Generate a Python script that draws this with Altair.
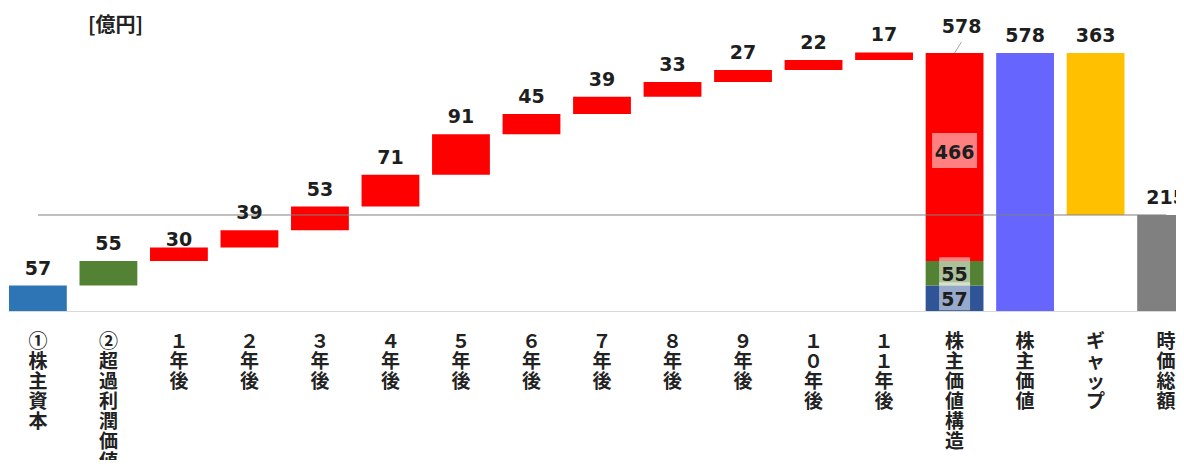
import altair as alt
import pandas as pd

categories = ["①株主資本", "②超過利潤価値", "１年後", "２年後", "３年後", "４年後", "５年後",
              "６年後", "７年後", "８年後", "９年後", "１０年後", "１１年後",
              "株主価値構造", "株主価値", "ギャップ", "時価総額"]
step_values = [57, 55, 30, 39, 53, 71, 91, 45, 39, 33, 27, 22, 17]
step_colors = ["#2E75B6", "#548235"] + ["#FF0000"] * 11
structure_parts = [57, 55, 466]
structure_colors = ["#2F5597", "#548235", "#FF0000"]
shareholder_value = 578
gap_value = 363
market_cap = 215
unit_label = "[億円]"

# ---- build tables ----
bars = []
labels = []
cum = 0
for c, v, col in zip(categories[:13], step_values, step_colors):
    bars.append(dict(cat=c, start=cum, end=cum + v, color=col))
    labels.append(dict(cat=c, top=cum + v, text=str(v)))
    cum += v

inner = []
cum2 = 0
for v, col in zip(structure_parts, structure_colors):
    bars.append(dict(cat="株主価値構造", start=cum2, end=cum2 + v, color=col))
    inner.append(dict(cat="株主価値構造", mid=cum2 + v / 2, text=str(v), digits=len(str(v))))
    cum2 += v

bars.append(dict(cat="株主価値", start=0, end=shareholder_value, color="#6666FF"))
labels.append(dict(cat="株主価値", top=shareholder_value, text=str(shareholder_value)))
bars.append(dict(cat="ギャップ", start=market_cap, end=market_cap + gap_value, color="#FFC000"))
labels.append(dict(cat="ギャップ", top=market_cap + gap_value, text=str(gap_value)))
bars.append(dict(cat="時価総額", start=0, end=market_cap, color="#808080"))
labels.append(dict(cat="時価総額", top=market_cap, text=str(market_cap)))

bars_df = pd.DataFrame(bars)
labels_df = pd.DataFrame(labels)
inner_df = pd.DataFrame(inner)
struct_top_df = pd.DataFrame([dict(cat="株主価値構造", top=shareholder_value, text=str(shareholder_value))])
line_df = pd.DataFrame([dict(x=categories[0], x2=categories[-1], y=market_cap)])
title_df = pd.DataFrame([dict(t=unit_label)])

W = 1188
H = 263
xscale = alt.Scale(domain=categories, paddingInner=0.18, paddingOuter=0.014)
yscale = alt.Scale(domain=[0, 589], nice=False)

X = alt.X("cat:N", scale=xscale, sort=categories, title=None,
          axis=alt.Axis(labelAngle=0, ticks=False, domainColor="#D9D9D9", domainWidth=1,
                        labelExpr="split(datum.label, '')", labelFont="Noto Sans CJK JP",
                        labelFontSize=19, labelFontWeight="bold", labelLineHeight=20,
                        labelColor="#222222", labelPadding=21, labelBaseline="top",
                        labelOverlap=False, labelLimit=300))
Xn = alt.X("cat:N", scale=xscale, sort=categories, title=None)

base_font = dict(font="DejaVu Sans", fontWeight="bold", fontSize=19, color="#1E1E1E")

bar_layer = alt.Chart(bars_df).mark_bar().encode(
    x=X,
    y=alt.Y("start:Q", scale=yscale, axis=None),
    y2="end:Q",
    color=alt.Color("color:N", scale=None),
)

rule_layer = alt.Chart(line_df).mark_rule(color="#808080", strokeWidth=1).encode(
    x=alt.X("x:N", scale=xscale, title=None),
    x2="x2:N",
    y=alt.Y("y:Q", scale=yscale, axis=None),
)

label_main = alt.Chart(labels_df).transform_filter(
    alt.datum.cat != "１年後").mark_text(baseline="alphabetic", dy=-11, **base_font).encode(
    x=Xn, y=alt.Y("top:Q", scale=yscale, axis=None), text="text:N")

label_close = alt.Chart(labels_df).transform_filter(
    alt.datum.cat == "１年後").mark_text(baseline="alphabetic", dy=-2, **base_font).encode(
    x=Xn, y=alt.Y("top:Q", scale=yscale, axis=None), text="text:N")

struct_label = alt.Chart(struct_top_df).mark_text(baseline="alphabetic", dy=-20, dx=7, **base_font).encode(
    x=Xn, y=alt.Y("top:Q", scale=yscale, axis=None), text="text:N")

leader = alt.Chart(struct_top_df).mark_rule(color="#A6A6A6", strokeWidth=1, x2Offset=7, y2Offset=-11).encode(
    x=Xn, x2="cat:N", y=alt.Y("top:Q", scale=yscale, axis=None), y2="top:Q")

box2 = alt.Chart(inner_df).transform_filter(alt.datum.digits == 2).mark_bar(
    width=31, color="white", opacity=0.5, yOffset=-16, y2Offset=12).encode(
    x=Xn, y=alt.Y("mid:Q", scale=yscale, axis=None), y2="mid:Q")

box3 = alt.Chart(inner_df).transform_filter(alt.datum.digits == 3).mark_bar(
    width=45, color="white", opacity=0.5, yOffset=-24, y2Offset=11).encode(
    x=Xn, y=alt.Y("mid:Q", scale=yscale, axis=None), y2="mid:Q")

inner2 = alt.Chart(inner_df).transform_filter(alt.datum.digits == 2).mark_text(
    baseline="middle", dy=2, **base_font).encode(
    x=Xn, y=alt.Y("mid:Q", scale=yscale, axis=None), text="text:N")

inner3 = alt.Chart(inner_df).transform_filter(alt.datum.digits == 3).mark_text(
    baseline="middle", dy=-4, **base_font).encode(
    x=Xn, y=alt.Y("mid:Q", scale=yscale, axis=None), text="text:N")

unit_text = alt.Chart(title_df).mark_text(
    align="left", baseline="middle", font="Noto Sans CJK JP", fontSize=20,
    fontWeight="bold", color="#222222").encode(
    x=alt.value(80), y=alt.value(-22), text="t:N")

chart = alt.layer(
    bar_layer, rule_layer, box2, box3, inner2, inner3, label_main, label_close,
    struct_label, leader, unit_text
).properties(
    width=W, height=H,
    autosize="none",
    padding={"left": 0, "right": -20, "top": 40, "bottom": 149},
).configure_view(stroke=None)

chart.save("out.html", embed_options={"renderer": "svg", "actions": False})
